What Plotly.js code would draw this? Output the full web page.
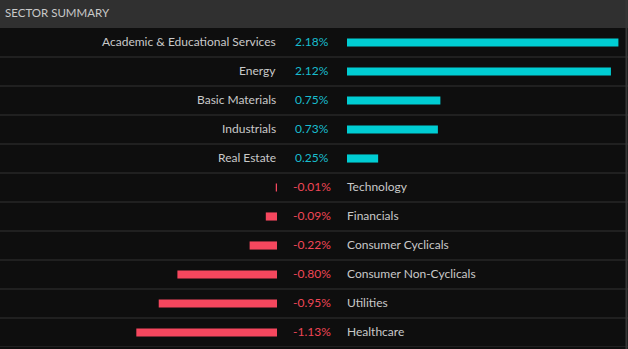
<!DOCTYPE html>
<html>
<head>
<meta charset="utf-8">
<script src="https://cdn.plot.ly/plotly-3.0.1.min.js"></script>
<style>
html,body{margin:0;padding:0;background:#0e0e0e;}
#chart{width:628px;height:349px;}
</style>
</head>
<body>
<div id="chart"></div>
<script>
const posSectors = ["Academic & Educational Services","Energy","Basic Materials","Industrials","Real Estate"];
const posValues = [2.18, 2.12, 0.75, 0.73, 0.25];
const negSectors = ["Technology","Financials","Consumer Cyclicals","Consumer Non-Cyclicals","Utilities","Healthcare"];
const negValues = [-0.01, -0.09, -0.22, -0.80, -0.95, -1.13];
const allSectors = posSectors.concat(negSectors);

const W = 628, H = 349;
const TOP = 28, BOTTOM = 2;
const zeroPos = 347, zeroNeg = 277, pxPerPct = 124.5;
const labelCenter = 311.5;
const CYAN = "#00cdd3", RED = "#f5475e";
const CYAN_TXT = "#18bccd", RED_TXT = "#ee4656", LABEL = "#c9c9c9";
const FONT = "Lato, Open Sans, sans-serif";
const FS = 12;

const traces = [
  {type:"bar", orientation:"h", y:posSectors, x:posValues, xaxis:"x", yaxis:"y",
   marker:{color:CYAN}, width:0.28, hoverinfo:"skip"},
  {type:"bar", orientation:"h", y:negSectors, x:negValues, xaxis:"x2", yaxis:"y",
   marker:{color:RED}, width:0.28, hoverinfo:"skip"}
];

const annotations = [];
posSectors.forEach((s,i)=>{
  annotations.push({xref:"paper", yref:"y", x:(zeroNeg+1)/W, y:s, text:s, showarrow:false, yshift:1,
    xanchor:"right", yanchor:"middle", font:{family:FONT, size:FS, color:LABEL}});
  annotations.push({xref:"paper", yref:"y", x:labelCenter/W, y:s, text:posValues[i].toFixed(2)+"%", showarrow:false, yshift:1,
    xanchor:"center", yanchor:"middle", font:{family:FONT, size:FS, color:CYAN_TXT}});
});
negSectors.forEach((s,i)=>{
  annotations.push({xref:"paper", yref:"y", x:(zeroPos-2)/W, y:s, text:s, showarrow:false, yshift:1,
    xanchor:"left", yanchor:"middle", font:{family:FONT, size:FS, color:LABEL}});
  annotations.push({xref:"paper", yref:"y", x:labelCenter/W, y:s, text:negValues[i].toFixed(2)+"%", showarrow:false, yshift:1,
    xanchor:"center", yanchor:"middle", font:{family:FONT, size:FS, color:RED_TXT}});
});

const plotH = H - TOP - BOTTOM;
const shapes = [
  {type:"rect", xref:"paper", yref:"paper", x0:0, x1:1, y0:1, y1:1+TOP/plotH, fillcolor:"#303030", line:{width:0}, layer:"below"}
];
for (let k=0;k<allSectors.length;k++){
  shapes.push({type:"line", xref:"paper", yref:"y", x0:0, x1:1, y0:k+0.5, y1:k+0.5, line:{color:"#272727", width:1.5}, layer:"below"});
}
shapes.push({type:"line", xref:"paper", yref:"paper", x0:626.5/W, x1:626.5/W, y0:-BOTTOM/plotH, y1:1+TOP/plotH, line:{color:"#363636", width:2}});

const layout = {
  width:W, height:H,
  margin:{l:0, r:0, t:TOP, b:BOTTOM, pad:0},
  paper_bgcolor:"#0e0e0e", plot_bgcolor:"#0e0e0e",
  showlegend:false, barmode:"overlay",
  title:{text:"SECTOR SUMMARY", x:5/W, xanchor:"left", xref:"paper", y:1-13/H, yref:"container", yanchor:"middle",
    font:{family:FONT, size:11.5, color:"#c9c9c9"}},
  xaxis:{domain:[zeroPos/W,1], range:[0,(W-zeroPos)/pxPerPct], visible:false, fixedrange:true},
  xaxis2:{domain:[0,zeroNeg/W], range:[-zeroNeg/pxPerPct,0], visible:false, fixedrange:true, anchor:"y"},
  yaxis:{type:"category", categoryorder:"array", categoryarray:allSectors, range:[allSectors.length-0.5,-0.5],
    visible:false, fixedrange:true},
  annotations:annotations, shapes:shapes
};
Plotly.newPlot("chart", traces, layout, {staticPlot:true, displayModeBar:false});
</script>
</body>
</html>
